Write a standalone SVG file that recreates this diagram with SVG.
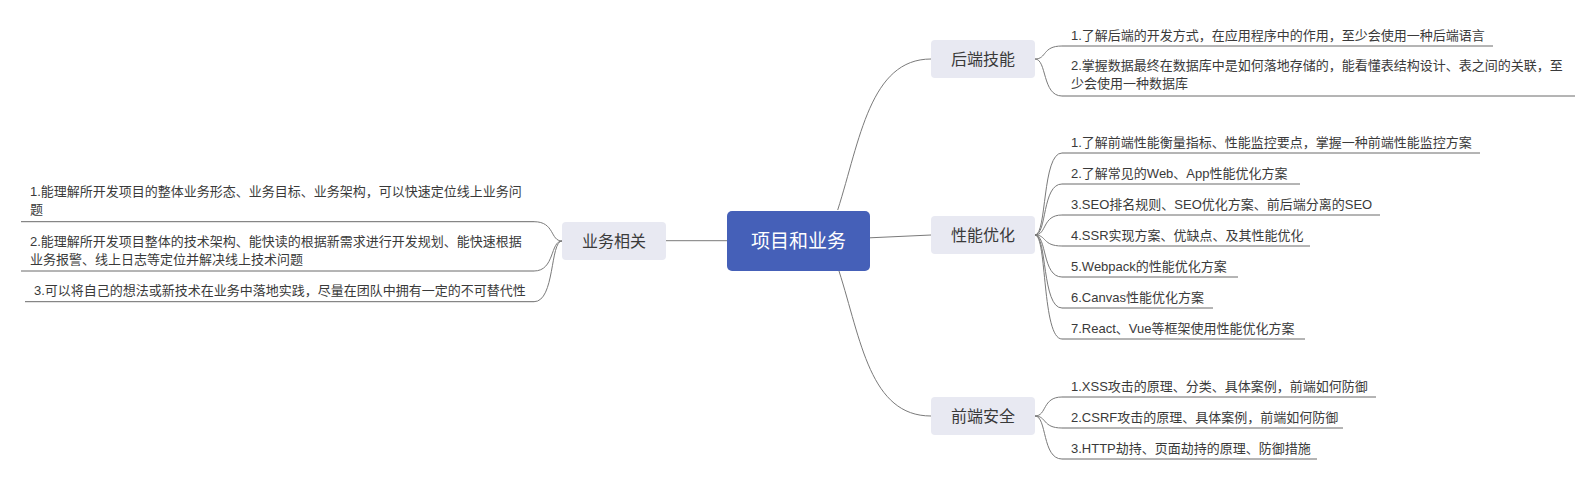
<svg xmlns="http://www.w3.org/2000/svg" width="1596" height="480" viewBox="0 0 1596 480">
<style>
text{font-family:"Liberation Sans","Noto Sans CJK SC",sans-serif;fill:#3a3a3a}
.leaf{font-size:13px}
.br{font-size:16px;text-anchor:middle}
.brbox{fill:#e8e9f2}
.c{fill:none;stroke:#7a7a7a;stroke-width:1}
.u{fill:none;stroke:#6a6a6a;stroke-width:1}
</style>
<rect width="1596" height="480" fill="#ffffff"/>
<g id="connectors">
<path class="c" d="M727,240.7 L666,240.7"/>
<path class="c" d="M870,237.8 L931,235"/>
<path class="c" d="M837.7,210 C860,140 870,59 931,59"/>
<path class="c" d="M839,271 C861,340 870,416 931,416"/>
<!-- left leaves -->
<path class="c" d="M562,241 C550,241 555,221.7 534,221.7"/>
<path class="c" d="M562,241 C550,241 555,271 534,271"/>
<path class="c" d="M562,241 C550,241 555,301.7 534,301.7"/>
<!-- backend -->
<path class="c" d="M1035,59 C1047,59 1042,46 1062,46"/>
<path class="c" d="M1035,59 C1047,59 1042,96 1062,96"/>
<!-- perf -->
<path class="c" d="M1035,235 C1047,235 1042,153 1062,153"/>
<path class="c" d="M1035,235 C1047,235 1042,184 1062,184"/>
<path class="c" d="M1035,235 C1047,235 1042,215 1062,215"/>
<path class="c" d="M1035,235 C1047,235 1042,246 1062,246"/>
<path class="c" d="M1035,235 C1047,235 1042,277 1062,277"/>
<path class="c" d="M1035,235 C1047,235 1042,308 1062,308"/>
<path class="c" d="M1035,235 C1047,235 1042,339 1062,339"/>
<!-- security -->
<path class="c" d="M1035,416 C1047,416 1042,397 1062,397"/>
<path class="c" d="M1035,416 C1047,416 1042,428 1062,428"/>
<path class="c" d="M1035,416 C1047,416 1042,459 1062,459"/>
</g>
<g id="center">
<rect x="727" y="211" width="143" height="60" rx="5" fill="#4560b8"/>
<text x="798.5" y="247.5" style="font-size:19px;text-anchor:middle;fill:#ffffff">项目和业务</text>
</g>
<g id="biz">
<rect class="brbox" x="562" y="222" width="104" height="38" rx="4"/>
<text class="br" x="614" y="246.5">业务相关</text>
</g>
<g id="biz-1">
<text class="leaf" x="30" y="196">1.能理解所开发项目的整体业务形态、业务目标、业务架构，可以快速定位线上业务问</text>
<text class="leaf" x="30" y="214">题</text>
<path class="u" d="M534,221.7 L21,221.7"/>
</g>
<g id="biz-2">
<text class="leaf" x="30" y="246">2.能理解所开发项目整体的技术架构、能快读的根据新需求进行开发规划、能快速根据</text>
<text class="leaf" x="30" y="264">业务报警、线上日志等定位并解决线上技术问题</text>
<path class="u" d="M534,271 L21,271"/>
</g>
<g id="biz-3">
<text class="leaf" x="34" y="295">3.可以将自己的想法或新技术在业务中落地实践，尽量在团队中拥有一定的不可替代性</text>
<path class="u" d="M534,301.7 L25,301.7"/>
</g>
<g id="backend">
<rect class="brbox" x="931" y="40" width="104" height="38" rx="4"/>
<text class="br" x="983" y="64.5">后端技能</text>
</g>
<g id="backend-1">
<text class="leaf" x="1071" y="39.5">1.了解后端的开发方式，在应用程序中的作用，至少会使用一种后端语言</text>
<path class="u" d="M1062,46 L1493,46"/>
</g>
<g id="backend-2">
<text class="leaf" x="1071" y="70">2.掌握数据最终在数据库中是如何落地存储的，能看懂表结构设计、表之间的关联，至</text>
<text class="leaf" x="1071" y="88">少会使用一种数据库</text>
<path class="u" d="M1062,96 L1575,96"/>
</g>
<g id="perf">
<rect class="brbox" x="931" y="216" width="104" height="38" rx="4"/>
<text class="br" x="983" y="240.5">性能优化</text>
</g>
<g id="perf-1"><text class="leaf" x="1071" y="146.5">1.了解前端性能衡量指标、性能监控要点，掌握一种前端性能监控方案</text><path class="u" d="M1062,153 L1480,153"/></g>
<g id="perf-2"><text class="leaf" x="1071" y="177.5">2.了解常见的Web、App性能优化方案</text><path class="u" d="M1062,184 L1300,184"/></g>
<g id="perf-3"><text class="leaf" x="1071" y="208.5">3.SEO排名规则、SEO优化方案、前后端分离的SEO</text><path class="u" d="M1062,215 L1380,215"/></g>
<g id="perf-4"><text class="leaf" x="1071" y="239.5">4.SSR实现方案、优缺点、及其性能优化</text><path class="u" d="M1062,246 L1310,246"/></g>
<g id="perf-5"><text class="leaf" x="1071" y="270.5">5.Webpack的性能优化方案</text><path class="u" d="M1062,277 L1238,277"/></g>
<g id="perf-6"><text class="leaf" x="1071" y="301.5">6.Canvas性能优化方案</text><path class="u" d="M1062,308 L1213,308"/></g>
<g id="perf-7"><text class="leaf" x="1071" y="332.5">7.React、Vue等框架使用性能优化方案</text><path class="u" d="M1062,339 L1305,339"/></g>
<g id="security">
<rect class="brbox" x="931" y="397" width="104" height="38" rx="4"/>
<text class="br" x="983" y="421.5">前端安全</text>
</g>
<g id="sec-1"><text class="leaf" x="1071" y="390.5">1.XSS攻击的原理、分类、具体案例，前端如何防御</text><path class="u" d="M1062,397 L1376,397"/></g>
<g id="sec-2"><text class="leaf" x="1071" y="421.5">2.CSRF攻击的原理、具体案例，前端如何防御</text><path class="u" d="M1062,428 L1343,428"/></g>
<g id="sec-3"><text class="leaf" x="1071" y="452.5">3.HTTP劫持、页面劫持的原理、防御措施</text><path class="u" d="M1062,459 L1317,459"/></g>
</svg>
